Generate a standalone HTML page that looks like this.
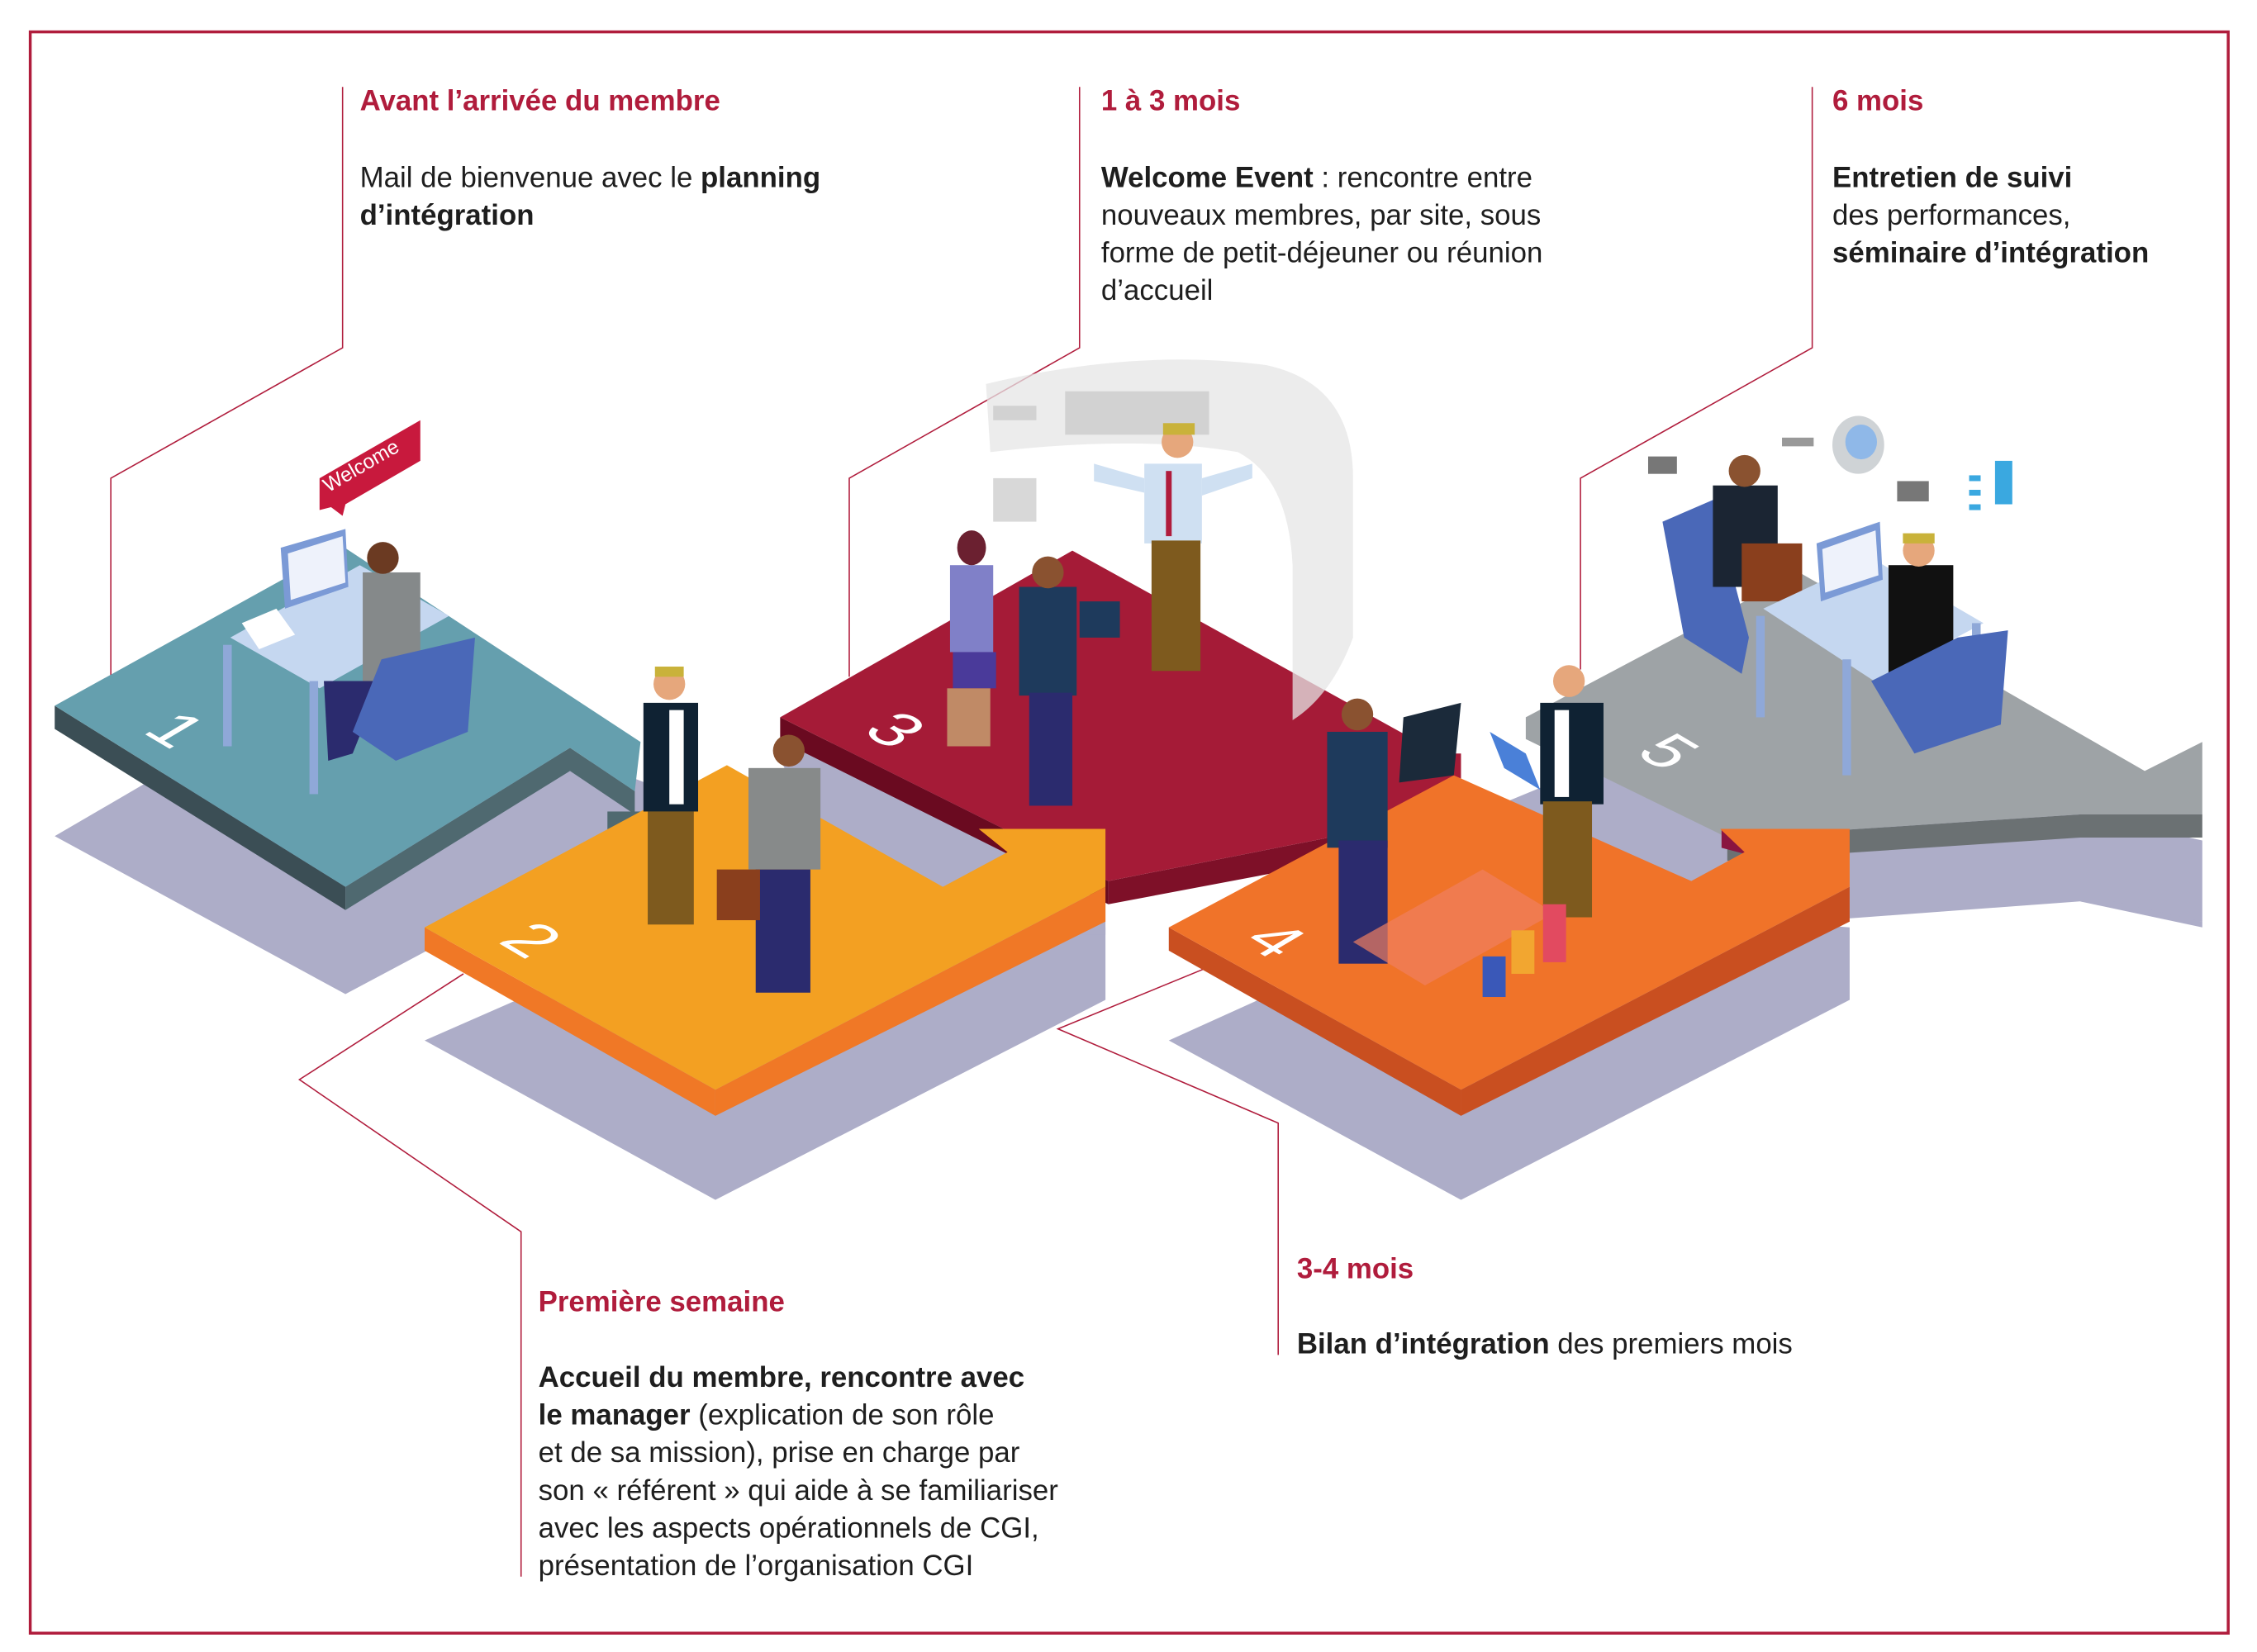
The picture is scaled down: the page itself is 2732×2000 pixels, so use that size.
<!DOCTYPE html>
<html><head><meta charset="utf-8"><style>
html,body{margin:0;padding:0;background:#fff;}
svg{display:block;}
.t{font-family:"Liberation Sans",sans-serif;font-size:20px;font-weight:bold;fill:#b01c3c;}
.b{font-family:"Liberation Sans",sans-serif;font-size:20px;fill:#1e1e1e;}
.b tspan.s{font-weight:bold;}
.n{font-family:"Liberation Sans",sans-serif;font-size:46px;fill:#fff;}
</style></head><body>
<svg width="2732" height="2000" viewBox="0 0 1568 1140" preserveAspectRatio="none" xmlns="http://www.w3.org/2000/svg">
<rect x="21" y="22" width="1527" height="1105" fill="none" stroke="#b01c3c" stroke-width="2"/>
<g fill="none" stroke="#b01c3c" stroke-width="0.9">
<polyline points="238,60 238,240 77,330 77,472"/>
<polyline points="750,60 750,240 590,330 590,467"/>
<polyline points="1259,60 1259,240 1098,330 1098,462"/>
<polyline points="362,1088 362,850 208,745 322,672"/>
<polyline points="888,935 888,775 735,710 838,668"/>
</g>
<g fill="#adadc8">
<polygon points="38,577 240,686 448,576 448,540 240,460"/>
<polygon points="295,718 497,828 768,690 768,640 520,620"/>
<polygon points="540,520 560,560 640,620 700,645 768,645 768,540 650,500"/>
<polygon points="812,718 1015,828 1285,690 1285,640 1030,620"/>
<polygon points="1030,560 1200,640 1445,622 1530,636 1530,580 1440,560 1250,470"/>
</g>
<polygon points="1445,622 1468,622 1530,636 1530,640" fill="#adadc8"/>
<!-- P1 -->
<polygon points="38,487 240,612 240,628 38,503" fill="#3b4e55"/>
<polygon points="240,612 396,516 441,546 441,562 396,532 240,628" fill="#4f6970"/>
<polygon points="38,487 238,377 445,512 441,546 396,516 240,612" fill="#659fae"/>
<rect x="422" y="560" width="88" height="17" fill="#4f6970"/>
<!-- P3 -->
<polygon points="542,495 770,608 770,624 542,511" fill="#6a0a20"/>
<polygon points="770,608 1015,560 1015,578 770,624" fill="#7e1028"/>
<polygon points="542,495 745,380 1000,520 1015,520 1015,560 770,608" fill="#a51b37"/>
<!-- P2 -->
<polygon points="295,640 497,752 497,770 295,656" fill="#f07826"/>
<polygon points="497,752 768,612 768,636 497,770" fill="#f07826"/>
<polygon points="680,572 700,588 700,575" fill="#f07826"/>
<polygon points="295,640 505,528 655,612 700,588 680,572 768,572 768,612 497,752" fill="#f3a022"/>
<!-- P5 -->
<polygon points="1200,578 1445,562 1530,562 1530,578 1445,578 1200,594" fill="#6b7173"/>
<polygon points="1060,495 1250,395 1490,532 1530,512 1530,562 1445,562 1200,578 1060,510" fill="#9ea3a6"/>
<polygon points="1196,572 1215,572 1215,590 1196,585" fill="#8a1540"/>
<!-- P4 -->
<polygon points="812,640 1015,752 1015,770 812,656" fill="#c94f20"/>
<polygon points="1015,752 1285,612 1285,636 1015,770" fill="#c94f20"/>
<polygon points="812,640 1010,535 1175,608 1212,588 1195,572 1285,572 1285,612 1015,752" fill="#f07329"/>
<text class="n" transform="matrix(0.85,0.5,-0.85,0.5,98,505)">1</text>
<text class="n" transform="matrix(0.85,0.5,-0.85,0.5,345,650)">2</text>
<text class="n" transform="matrix(0.85,0.5,-0.85,0.5,598,505)">3</text>
<text class="n" transform="matrix(0.85,0.5,-0.85,0.5,862,650)">4</text>
<text class="n" transform="matrix(0.85,0.5,-0.85,0.5,1135,520)">5</text>
<path d="M685,265 Q790,240 880,252 Q940,265 940,330 L940,440 Q925,480 898,497 L898,390 Q895,330 860,312 Q790,300 688,312 Z" fill="#e6e6e6" opacity="0.75"/>
<g fill="#c8c8c8" opacity="0.7"><rect x="690" y="280" width="30" height="10"/><rect x="690" y="330" width="30" height="30"/><rect x="740" y="270" width="100" height="30"/></g>
<polygon points="222,330 292,290 292,318 240,348 238,356 230,350 222,352" fill="#c8193d"/>
<text x="228" y="340" transform="rotate(-30 228 340)" font-family="Liberation Sans,sans-serif" font-size="14" fill="#fff">Welcome</text>
<polygon points="160,440 250,390 312,425 222,475" fill="#c5d7f0"/>
<rect x="155" y="445" width="6" height="70" fill="#8fa8d8"/>
<rect x="215" y="470" width="6" height="78" fill="#8fa8d8"/>
<polygon points="195,378 240,365 242,405 198,420" fill="#7b9ad6"/>
<polygon points="200,382 238,370 240,402 202,414" fill="#eef2fb"/>
<polygon points="168,430 192,420 205,438 180,448" fill="#fff"/>
<rect x="252" y="395" width="40" height="78" fill="#85898a"/>
<circle cx="266" cy="385" r="11" fill="#6b3a22"/>
<polygon points="225,470 265,470 245,520 228,525" fill="#2b2b6e"/>
<polygon points="265,455 330,440 325,505 275,525 245,505" fill="#4a68b8"/>
<rect x="447" y="485" width="38" height="75" fill="#0f2233"/>
<rect x="465" y="490" width="10" height="65" fill="#fff"/>
<rect x="450" y="560" width="32" height="78" fill="#7e5a1e"/>
<circle cx="465" cy="472" r="11" fill="#e6a77c"/>
<rect x="455" y="460" width="20" height="7" fill="#c9b23a"/>
<rect x="520" y="530" width="50" height="70" fill="#878a8a"/>
<rect x="525" y="600" width="38" height="85" fill="#2b2b6e"/>
<circle cx="548" cy="518" r="11" fill="#8a5230"/>
<rect x="498" y="600" width="30" height="35" fill="#8a3f1d"/>
<rect x="660" y="390" width="30" height="60" fill="#8080c8"/>
<rect x="662" y="450" width="30" height="25" fill="#4a3a9a"/>
<rect x="658" y="475" width="30" height="40" fill="#c08a66"/>
<ellipse cx="675" cy="378" rx="10" ry="12" fill="#6b2030"/>
<rect x="708" y="405" width="40" height="75" fill="#1e3a5c"/>
<rect x="715" y="478" width="30" height="78" fill="#2b2b6e"/>
<circle cx="728" cy="395" r="11" fill="#8a5230"/>
<rect x="750" y="415" width="28" height="25" fill="#1e3a5c"/>
<rect x="795" y="320" width="40" height="55" fill="#cfe0f2"/>
<rect x="810" y="325" width="4" height="45" fill="#b01c3c"/>
<rect x="800" y="373" width="34" height="90" fill="#7e5a1e"/>
<circle cx="818" cy="305" r="11" fill="#e6a77c"/>
<rect x="808" y="292" width="22" height="8" fill="#c9b23a"/>
<polygon points="760,320 795,330 795,340 760,332" fill="#cfe0f2"/>
<polygon points="835,330 870,320 870,330 835,342" fill="#cfe0f2"/>
<rect x="922" y="505" width="42" height="80" fill="#1e3a5c"/>
<rect x="930" y="580" width="34" height="85" fill="#2b2b6e"/>
<circle cx="943" cy="493" r="11" fill="#8a5230"/>
<polygon points="975,495 1015,485 1010,535 972,540" fill="#1b2a3a"/>
<rect x="1070" y="485" width="44" height="70" fill="#0f2233"/>
<rect x="1080" y="490" width="10" height="60" fill="#fff"/>
<rect x="1072" y="553" width="34" height="80" fill="#7e5a1e"/>
<circle cx="1090" cy="470" r="11" fill="#e6a77c"/>
<polygon points="1035,505 1060,520 1070,545 1045,530" fill="#4a80d8"/>
<polygon points="940,650 1030,600 1080,630 990,680" fill="#f07f60" opacity="0.7"/>
<rect x="1030" y="660" width="16" height="28" fill="#3a58b8"/>
<rect x="1050" y="642" width="16" height="30" fill="#f2a630"/>
<rect x="1072" y="624" width="16" height="40" fill="#e24a60"/>
<polygon points="1155,360 1190,345 1215,440 1210,465 1170,440" fill="#4a68b8"/>
<rect x="1190" y="335" width="45" height="70" fill="#1b2533"/>
<circle cx="1212" cy="325" r="11" fill="#8a5230"/>
<rect x="1210" y="375" width="42" height="40" fill="#8a3f1d"/>
<polygon points="1225,420 1300,385 1378,430 1302,470" fill="#c5d7f0"/>
<rect x="1220" y="425" width="6" height="70" fill="#8fa8d8"/>
<rect x="1280" y="455" width="6" height="80" fill="#8fa8d8"/>
<rect x="1370" y="430" width="6" height="65" fill="#8fa8d8"/>
<polygon points="1262,375 1306,360 1308,400 1265,415" fill="#7b9ad6"/>
<polygon points="1266,379 1303,366 1305,397 1268,409" fill="#eef2fb"/>
<rect x="1312" y="390" width="45" height="75" fill="#111"/>
<circle cx="1333" cy="380" r="11" fill="#e6a77c"/>
<rect x="1322" y="368" width="22" height="7" fill="#c9b23a"/>
<polygon points="1300,470 1360,440 1395,435 1390,500 1330,520" fill="#4a68b8"/>
<ellipse cx="1291" cy="307" rx="18" ry="20" fill="#cfd3d6"/>
<ellipse cx="1293" cy="305" rx="11" ry="12" fill="#8fb8e8"/>
<rect x="1145" y="315" width="20" height="12" fill="#777"/>
<rect x="1318" y="332" width="22" height="14" fill="#777"/>
<rect x="1238" y="302" width="22" height="6" fill="#999"/>
<g fill="#3aa8e0"><rect x="1368" y="328" width="8" height="4"/><rect x="1368" y="338" width="8" height="4"/><rect x="1368" y="348" width="8" height="4"/><rect x="1386" y="318" width="12" height="30"/></g>
<text class="t" x="250" y="76">Avant l’arrivée du membre</text>
<text class="b" x="250" y="129">Mail de bienvenue avec le <tspan class="s">planning</tspan></text>
<text class="b" x="250" y="155"><tspan class="s">d’intégration</tspan></text>
<text class="t" x="765" y="76">1 à 3 mois</text>
<text class="b" x="765" y="129"><tspan class="s">Welcome Event</tspan> : rencontre entre</text>
<text class="b" x="765" y="155">nouveaux membres, par site, sous</text>
<text class="b" x="765" y="181">forme de petit-déjeuner ou réunion</text>
<text class="b" x="765" y="207">d’accueil</text>
<text class="t" x="1273" y="76">6 mois</text>
<text class="b" x="1273" y="129"><tspan class="s">Entretien de suivi</tspan></text>
<text class="b" x="1273" y="155">des performances,</text>
<text class="b" x="1273" y="181"><tspan class="s">séminaire d’intégration</tspan></text>
<text class="t" x="374" y="905">Première semaine</text>
<text class="b" x="374" y="957"><tspan class="s">Accueil du membre, rencontre avec</tspan></text>
<text class="b" x="374" y="983"><tspan class="s">le manager</tspan> (explication de son rôle</text>
<text class="b" x="374" y="1009">et de sa mission), prise en charge par</text>
<text class="b" x="374" y="1035">son « référent » qui aide à se familiariser</text>
<text class="b" x="374" y="1061">avec les aspects opérationnels de CGI,</text>
<text class="b" x="374" y="1087">présentation de l’organisation CGI</text>
<text class="t" x="901" y="882">3-4 mois</text>
<text class="b" x="901" y="934"><tspan class="s">Bilan d’intégration</tspan> des premiers mois</text>
</svg>
</body></html>
